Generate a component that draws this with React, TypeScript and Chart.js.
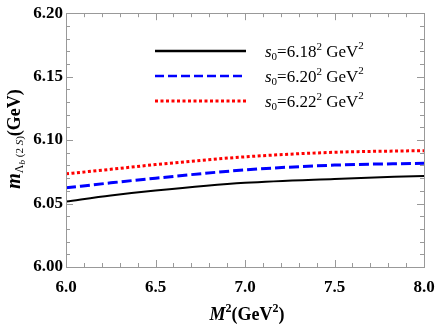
import React, { useEffect, useRef } from "react";
import { Chart, registerables } from "chart.js";

Chart.register(...registerables);

const xValues = [6.0, 6.25, 6.5, 7.0, 7.5, 8.0];
const blackValues = [6.0516, 6.0563, 6.0602, 6.0663, 6.0694, 6.0718];
const blueValues = [6.0624, 6.0663, 6.0700, 6.0765, 6.0803, 6.0817];
const redValues = [6.0734, 6.0770, 6.0807, 6.0868, 6.0904, 6.0917];
const legendLabels = ["6.18", "6.20", "6.22"];
const xTicks = [6.0, 6.5, 7.0, 7.5, 8.0];
const yTicks = [6.0, 6.05, 6.1, 6.15, 6.2];

const SERIF = "'Liberation Serif', 'DejaVu Serif', serif";

export default function App() {
  const ref = useRef<HTMLCanvasElement | null>(null);

  useEffect(() => {
    document.body.style.margin = "0";
    const canvas = ref.current;
    if (!canvas) return;

    const framePlugin = {
      id: "frame",
      afterDraw(chart: any) {
        const { ctx, chartArea: a, scales } = chart;
        const xs = scales.x;
        const ys = scales.y;
        ctx.save();
        ctx.strokeStyle = "#999999";
        ctx.lineWidth = 1;
        ctx.strokeRect(Math.round(a.left) + 0.5, Math.round(a.top) + 0.5, Math.round(a.right - a.left), Math.round(a.bottom - a.top));
        for (let i = 0; i <= 20; i++) {
          const v = 6 + i * 0.1;
          const px = Math.round(xs.getPixelForValue(v)) + 0.5;
          const major = i % 5 === 0;
          const len = major ? 7 : 4;
          ctx.beginPath();
          ctx.moveTo(px, a.bottom);
          ctx.lineTo(px, a.bottom - len);
          ctx.moveTo(px, a.top);
          ctx.lineTo(px, a.top + len);
          ctx.stroke();
        }
        for (let i = 0; i <= 20; i++) {
          const v = 6 + i * 0.01;
          const py = Math.round(ys.getPixelForValue(v)) + 0.5;
          const major = i % 5 === 0;
          const len = major ? 7 : 4;
          ctx.beginPath();
          ctx.moveTo(a.left, py);
          ctx.lineTo(a.left + len, py);
          ctx.moveTo(a.right, py);
          ctx.lineTo(a.right - len, py);
          ctx.stroke();
        }
        ctx.restore();

        // Legend
        ctx.save();
        const rows = [
          { color: "#000000", dash: [], w: 2.5 },
          { color: "#0000ff", dash: [9, 4], w: 2.5 },
          { color: "#ff0000", dash: [3, 2.5], w: 3 },
        ];
        rows.forEach((r, i) => {
          const y = 51 + i * 25;
          ctx.strokeStyle = r.color;
          ctx.lineWidth = r.w;
          ctx.setLineDash(r.dash);
          ctx.beginPath();
          ctx.moveTo(155, y);
          ctx.lineTo(246, y);
          ctx.stroke();
          ctx.setLineDash([]);
          ctx.fillStyle = "#000";
          ctx.textBaseline = "alphabetic";
          ctx.textAlign = "left";
          let x = 265;
          const base = y + 6;
          ctx.font = `italic 17px ${SERIF}`;
          ctx.fillText("s", x, base);
          x += ctx.measureText("s").width;
          ctx.font = `11px ${SERIF}`;
          ctx.fillText("0", x, base + 3);
          x += ctx.measureText("0").width;
          ctx.font = `17px ${SERIF}`;
          const t = "=" + legendLabels[i];
          ctx.fillText(t, x, base);
          x += ctx.measureText(t).width;
          ctx.font = `11px ${SERIF}`;
          ctx.fillText("2", x, base - 7);
          x += ctx.measureText("2").width;
          ctx.font = `17px ${SERIF}`;
          ctx.fillText(" GeV", x, base);
          x += ctx.measureText(" GeV").width;
          ctx.font = `11px ${SERIF}`;
          ctx.fillText("2", x, base - 8);
        });
        ctx.restore();

        // X title
        ctx.save();
        ctx.fillStyle = "#000";
        ctx.textBaseline = "alphabetic";
        ctx.textAlign = "left";
        const parts: [string, string, number][] = [
          ["M", `italic bold 18px ${SERIF}`, 0],
          ["2", `bold 12px ${SERIF}`, -8],
          ["(GeV", `bold 18px ${SERIF}`, 0],
          ["2", `bold 12px ${SERIF}`, -8],
          [")", `bold 18px ${SERIF}`, 0],
        ];
        let total = 0;
        parts.forEach(([s, f]) => {
          ctx.font = f;
          total += ctx.measureText(s).width;
        });
        let x = 247 - total / 2;
        const base = 320;
        parts.forEach(([s, f, dy]) => {
          ctx.font = f;
          ctx.fillText(s, x, base + dy);
          x += ctx.measureText(s).width;
        });
        ctx.restore();

        // Y title
        ctx.save();
        ctx.fillStyle = "#000";
        ctx.translate(20, 139);
        ctx.rotate(-Math.PI / 2);
        const yparts: [string, string, number][] = [
          ["m", `italic bold 20px ${SERIF}`, 0],
          ["Λ", `12px ${SERIF}`, 3],
          ["b", `italic 9px ${SERIF}`, 5],
          [" (2 ", `11px ${SERIF}`, 3],
          ["S", `italic 11px ${SERIF}`, 3],
          [")", `11px ${SERIF}`, 3],
          ["(GeV)", `bold 18px ${SERIF}`, 0],
        ];
        let ytotal = 0;
        yparts.forEach(([s, f]) => {
          ctx.font = f;
          ytotal += ctx.measureText(s).width;
        });
        let yx = -ytotal / 2;
        yparts.forEach(([s, f, dy]) => {
          ctx.font = f;
          ctx.fillText(s, yx, dy);
          yx += ctx.measureText(s).width;
        });
        ctx.restore();
      },
    };

    const mk = (data: number[]) => xValues.map((x, i) => ({ x, y: data[i] }));

    const chart = new Chart(canvas, {
      type: "line",
      data: {
        datasets: [
          {
            data: mk(blackValues),
            borderColor: "#000000",
            borderWidth: 2,
            pointRadius: 0,
            cubicInterpolationMode: "monotone",
          },
          {
            data: mk(blueValues),
            borderColor: "#0000ff",
            borderWidth: 3,
            borderDash: [10, 4],
            pointRadius: 0,
            cubicInterpolationMode: "monotone",
          },
          {
            data: mk(redValues),
            borderColor: "#ff0000",
            borderWidth: 3,
            borderDash: [3, 2.5],
            pointRadius: 0,
            cubicInterpolationMode: "monotone",
          },
        ],
      },
      options: {
        animation: false,
        responsive: false,
        maintainAspectRatio: false,
        layout: { padding: { top: 13, right: 0, left: 0, bottom: 0 } },
        plugins: { legend: { display: false }, tooltip: { enabled: false } },
        scales: {
          x: {
            type: "linear",
            min: 6,
            max: 8,
            afterBuildTicks: (s: any) => {
              s.ticks = xTicks.map((v) => ({ value: v }));
            },
            afterFit: (s: any) => {
              s.height = 60;
              s.paddingRight = 12;
            },
            grid: { display: false, drawTicks: false },
            border: { display: false },
            ticks: {
              color: "#000",
              padding: 10,
              maxRotation: 0,
              font: { family: SERIF, size: 17, weight: "bold" },
              callback: (v: any) => Number(v).toFixed(1),
            },
          },
          y: {
            type: "linear",
            min: 6.0,
            max: 6.2,
            afterBuildTicks: (s: any) => {
              s.ticks = yTicks.map((v) => ({ value: v }));
            },
            afterFit: (s: any) => {
              s.width = 66;
            },
            grid: { display: false, drawTicks: false },
            border: { display: false },
            ticks: {
              color: "#000",
              padding: 3,
              font: { family: SERIF, size: 17, weight: "bold" },
              callback: (v: any) => Number(v).toFixed(2),
            },
          },
        },
      },
      plugins: [framePlugin],
    } as any);

    return () => chart.destroy();
  }, []);

  return (
    <div style={{ width: 436, height: 327 }}>
      <canvas ref={ref} width={436} height={327} style={{ display: "block" }} />
    </div>
  );
}
